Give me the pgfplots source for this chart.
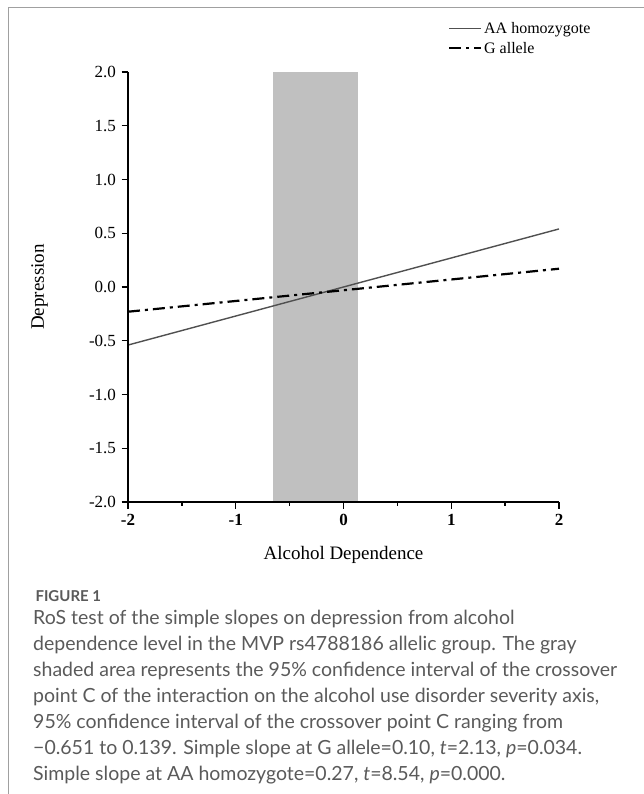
\documentclass[border=0pt]{standalone}
\usepackage{pgfplots}
\pgfplotsset{compat=1.18}
\usepackage{fontspec}
\setmainfont{Liberation Serif}
\newfontfamily\capfont{Lato}
\definecolor{capgray}{HTML}{5A5A5A}
\definecolor{framegray}{HTML}{A0A0A0}
\definecolor{shade}{HTML}{C0C0C0}
\definecolor{aagray}{HTML}{505050}
\begin{document}
\begin{tikzpicture}
\path[use as bounding box] (0,0) rectangle (644pt,-794pt);
\draw[framegray, line width=1pt] (8pt,-794pt) -- (8pt,-8pt) -- (644pt,-8pt);
\begin{axis}[
  at={(128pt,-502pt)}, anchor=south west,
  scale only axis, width=431pt, height=430pt,
  xmin=-2, xmax=2, ymin=-2, ymax=2,
  axis x line*=bottom, axis y line*=left,
  axis line style={line width=1.3pt, black},
  axis on top,
  xtick={-2,-1,0,1,2},
  xticklabels={-2,-1,0,1,2},
  minor xtick={-1.5,-0.5,0.5,1.5},
  ytick={-2,-1.5,-1,-0.5,0,0.5,1,1.5,2},
  yticklabels={-2.0,-1.5,-1.0,-0.5,0.0,0.5,1.0,1.5,2.0},
  tick align=outside,
  major tick length=6.5pt, minor tick length=3.5pt,
  every tick/.style={black, line width=1.3pt},
  xticklabel style={font=\fontsize{17}{17}\selectfont\bfseries, yshift=-2pt},
  yticklabel style={font=\fontsize{17}{17}\selectfont, xshift=-2pt},
  xlabel={Alcohol Dependence},
  ylabel={Depression},
  xlabel style={font=\fontsize{19}{19}\selectfont, at={(axis description cs:0.5,-0.123)}, anchor=center},
  ylabel style={font=\fontsize{19}{19}\selectfont, at={(axis description cs:-0.205,0.5)}, anchor=center},
  legend style={draw=none, fill=none, at={(rel axis cs:0.735,1.125)}, anchor=north west,
    font=\fontsize{16}{16}\selectfont, row sep=3pt,
    legend cell align=left},
  legend image code/.code={\draw[#1] (0pt,0pt) -- (32pt,0pt);},
  clip=false,
]
\addplot[fill=shade, draw=none, forget plot] coordinates {(-0.651,-2) (0.139,-2) (0.139,2) (-0.651,2)} -- cycle;
\addplot[aagray, line width=1.4pt] coordinates {(-2,-0.54) (2,0.54)};
\addlegendentry{AA homozygote}
\addplot[black, line width=2.2pt, dash pattern=on 12pt off 5pt on 3pt off 5pt] coordinates {(-2,-0.23) (2,0.17)};
\addlegendentry{G allele}
\end{axis}
\node[anchor=west, text=capgray, font=\capfont\bfseries\fontsize{15}{15}\selectfont] at (32pt,-596pt) {FIGURE 1};
\node[anchor=north west, text=capgray, align=left, inner sep=0pt, font=\capfont\fontsize{19.5}{26}\selectfont] at (33pt,-610pt) {%
RoS test of the simple slopes on depression from alcohol\\
dependence level in the MVP rs4788186 allelic group. The gray\\
shaded area represents the 95\% confidence interval of the crossover\\
point C of the interaction on the alcohol use disorder severity axis,\\
95\% confidence interval of the crossover point C ranging from\\
−0.651 to 0.139. Simple slope at G allele=0.10, \textit{t}=2.13, \textit{p}=0.034.\\
Simple slope at AA homozygote=0.27, \textit{t}=8.54, \textit{p}=0.000.};
\end{tikzpicture}
\end{document}
